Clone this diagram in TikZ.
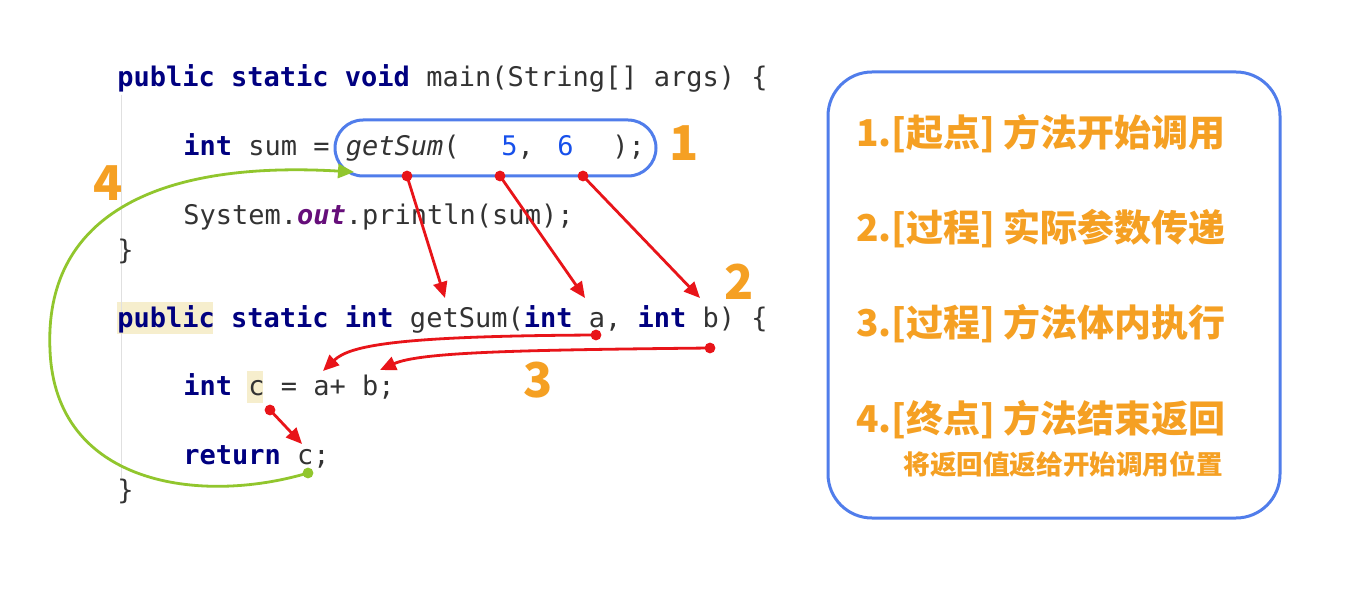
\documentclass[tikz,border=0pt]{standalone}
\usepackage{fontspec}
\setmonofont{DejaVu Sans Mono}
\newfontfamily\cjk{Noto Sans CJK SC}
\usetikzlibrary{arrows.meta}
\definecolor{kw}{RGB}{0,0,128}
\definecolor{txt}{RGB}{51,51,51}
\definecolor{num}{RGB}{23,80,235}
\definecolor{fld}{RGB}{102,14,122}
\definecolor{hl}{RGB}{246,238,205}
\definecolor{boxblue}{RGB}{80,125,235}
\definecolor{org}{RGB}{245,160,35}
\definecolor{arred}{RGB}{232,20,25}
\definecolor{grn}{RGB}{145,198,45}
\newcommand\kwd[1]{\textcolor{kw}{\bfseries #1}}
\begin{document}
\begin{tikzpicture}[x=0.5pt,y=-0.5pt,
  code/.style={anchor=base west, inner sep=0pt, font=\ttfamily\fontsize{13.5}{16}\selectfont, text=txt},
  numlabel/.style={font=\cjk\bfseries\fontsize{24}{28}\selectfont, text=org, inner sep=0pt},
  desc/.style={font=\cjk\bfseries\fontsize{18.5}{22}\selectfont, text=org, inner sep=0pt},
  subdesc/.style={font=\cjk\bfseries\fontsize{13.3}{16}\selectfont, text=org, inner sep=0pt},
  redarrow/.style={draw=arred, line width=1.4pt, -{Triangle[length=8pt,width=7pt]}},
  grnarrow/.style={draw=grn, line width=1.4pt, -{Triangle[length=8pt,width=7pt]}},
  bluebox/.style={draw=boxblue, line width=1.5pt},
  reddot/.style={fill=arred},
  grndot/.style={fill=grn}]
\useasboundingbox (0,0) rectangle (1348,609);
\fill[white] (0,0) rectangle (1348,609);

% highlights and indent guide
\fill[hl] (117,302) rectangle (213,334);
\fill[hl] (247,371) rectangle (263,403);
\draw[black!12, line width=0.5pt] (121,95) -- (121,478);

% code
\node[code] (l1) at (117,87) {\kwd{public} \kwd{static} \kwd{void} main(String[] args) \{};
\node[code] (l2) at (183,156) {\kwd{int} sum = \textit{getSum}(};
\node[code] (l2a) at (501,156) {\textcolor{num}{5},};
\node[code] (l2b) at (557,156) {\textcolor{num}{6}};
\node[code] (l2c) at (612,156) {);};
\node[code] (l3) at (183,225) {System.\textcolor{fld}{\bfseries\itshape out}.println(sum);};
\node[code] (l4) at (117,259) {\}};
\node[code] (l5) at (117,327) {\kwd{public} \kwd{static} \kwd{int} getSum(\kwd{int} a, \kwd{int} b) \{};
\node[code] (l6) at (183,395) {\kwd{int} c = a+ b;};
\node[code] (l7) at (183,464) {\kwd{return} c;};
\node[code] (l8) at (117,499) {\}};

% call box
\node[bluebox, rounded corners=14pt, minimum width=160.5pt, minimum height=28pt, inner sep=0pt] (call) at (495.5,148) {};

% labels
\node[numlabel] (n1) at (684,143) {1};
\node[numlabel] (n2) at (739,282) {2};
\node[numlabel] (n3) at (538,380) {3};
\node[numlabel] (n4) at (108,183) {4};

% coordinates
\coordinate (p1) at (407,176);
\coordinate (p2) at (500,176);
\coordinate (p3) at (583,176);
\coordinate (t1) at (445,298);
\coordinate (t2) at (585,298);
\coordinate (t3) at (700,298);
\coordinate (pa) at (596,335);
\coordinate (pb) at (710,348);
\coordinate (ta) at (323,371);
\coordinate (tb) at (380,370);
\coordinate (pc) at (270,410);
\coordinate (tc) at (302,444);
\coordinate (g0) at (308,473);
\coordinate (gt) at (354,172);

% red arrows
\draw[redarrow] (p1) -- (t1);
\draw[redarrow] (p2) -- (t2);
\draw[redarrow] (p3) -- (t3);
\draw[redarrow] (pa) .. controls (400,336) and (350,345) .. (ta);
\draw[redarrow] (pb) .. controls (520,350) and (420,352) .. (tb);
\draw[redarrow] (pc) -- (tc);
\foreach \p in {p1,p2,p3,pa,pb,pc} \fill[reddot] (\p) circle[radius=2.7pt];

% green return arrow
\draw[grnarrow] (g0) .. controls (200,505) and (55,485) .. (50,350) .. controls (44,220) and (150,160) .. (gt);
\fill[grndot] (g0) circle[radius=2.7pt];

% right panel
\node[bluebox, rounded corners=22pt, minimum width=226pt, minimum height=223pt, inner sep=0pt] (panel) at (1054,295) {};
\node[desc] (s1) at (1041,134) {1.[起点] 方法开始调用};
\node[desc] (s2) at (1041,229) {2.[过程] 实际参数传递};
\node[desc] (s3) at (1041,324) {3.[过程] 方法体内执行};
\node[desc] (s4) at (1041,420) {4.[终点] 方法结束返回};
\node[subdesc] (s5) at (1063,464) {将返回值返给开始调用位置};
\end{tikzpicture}
\end{document}
